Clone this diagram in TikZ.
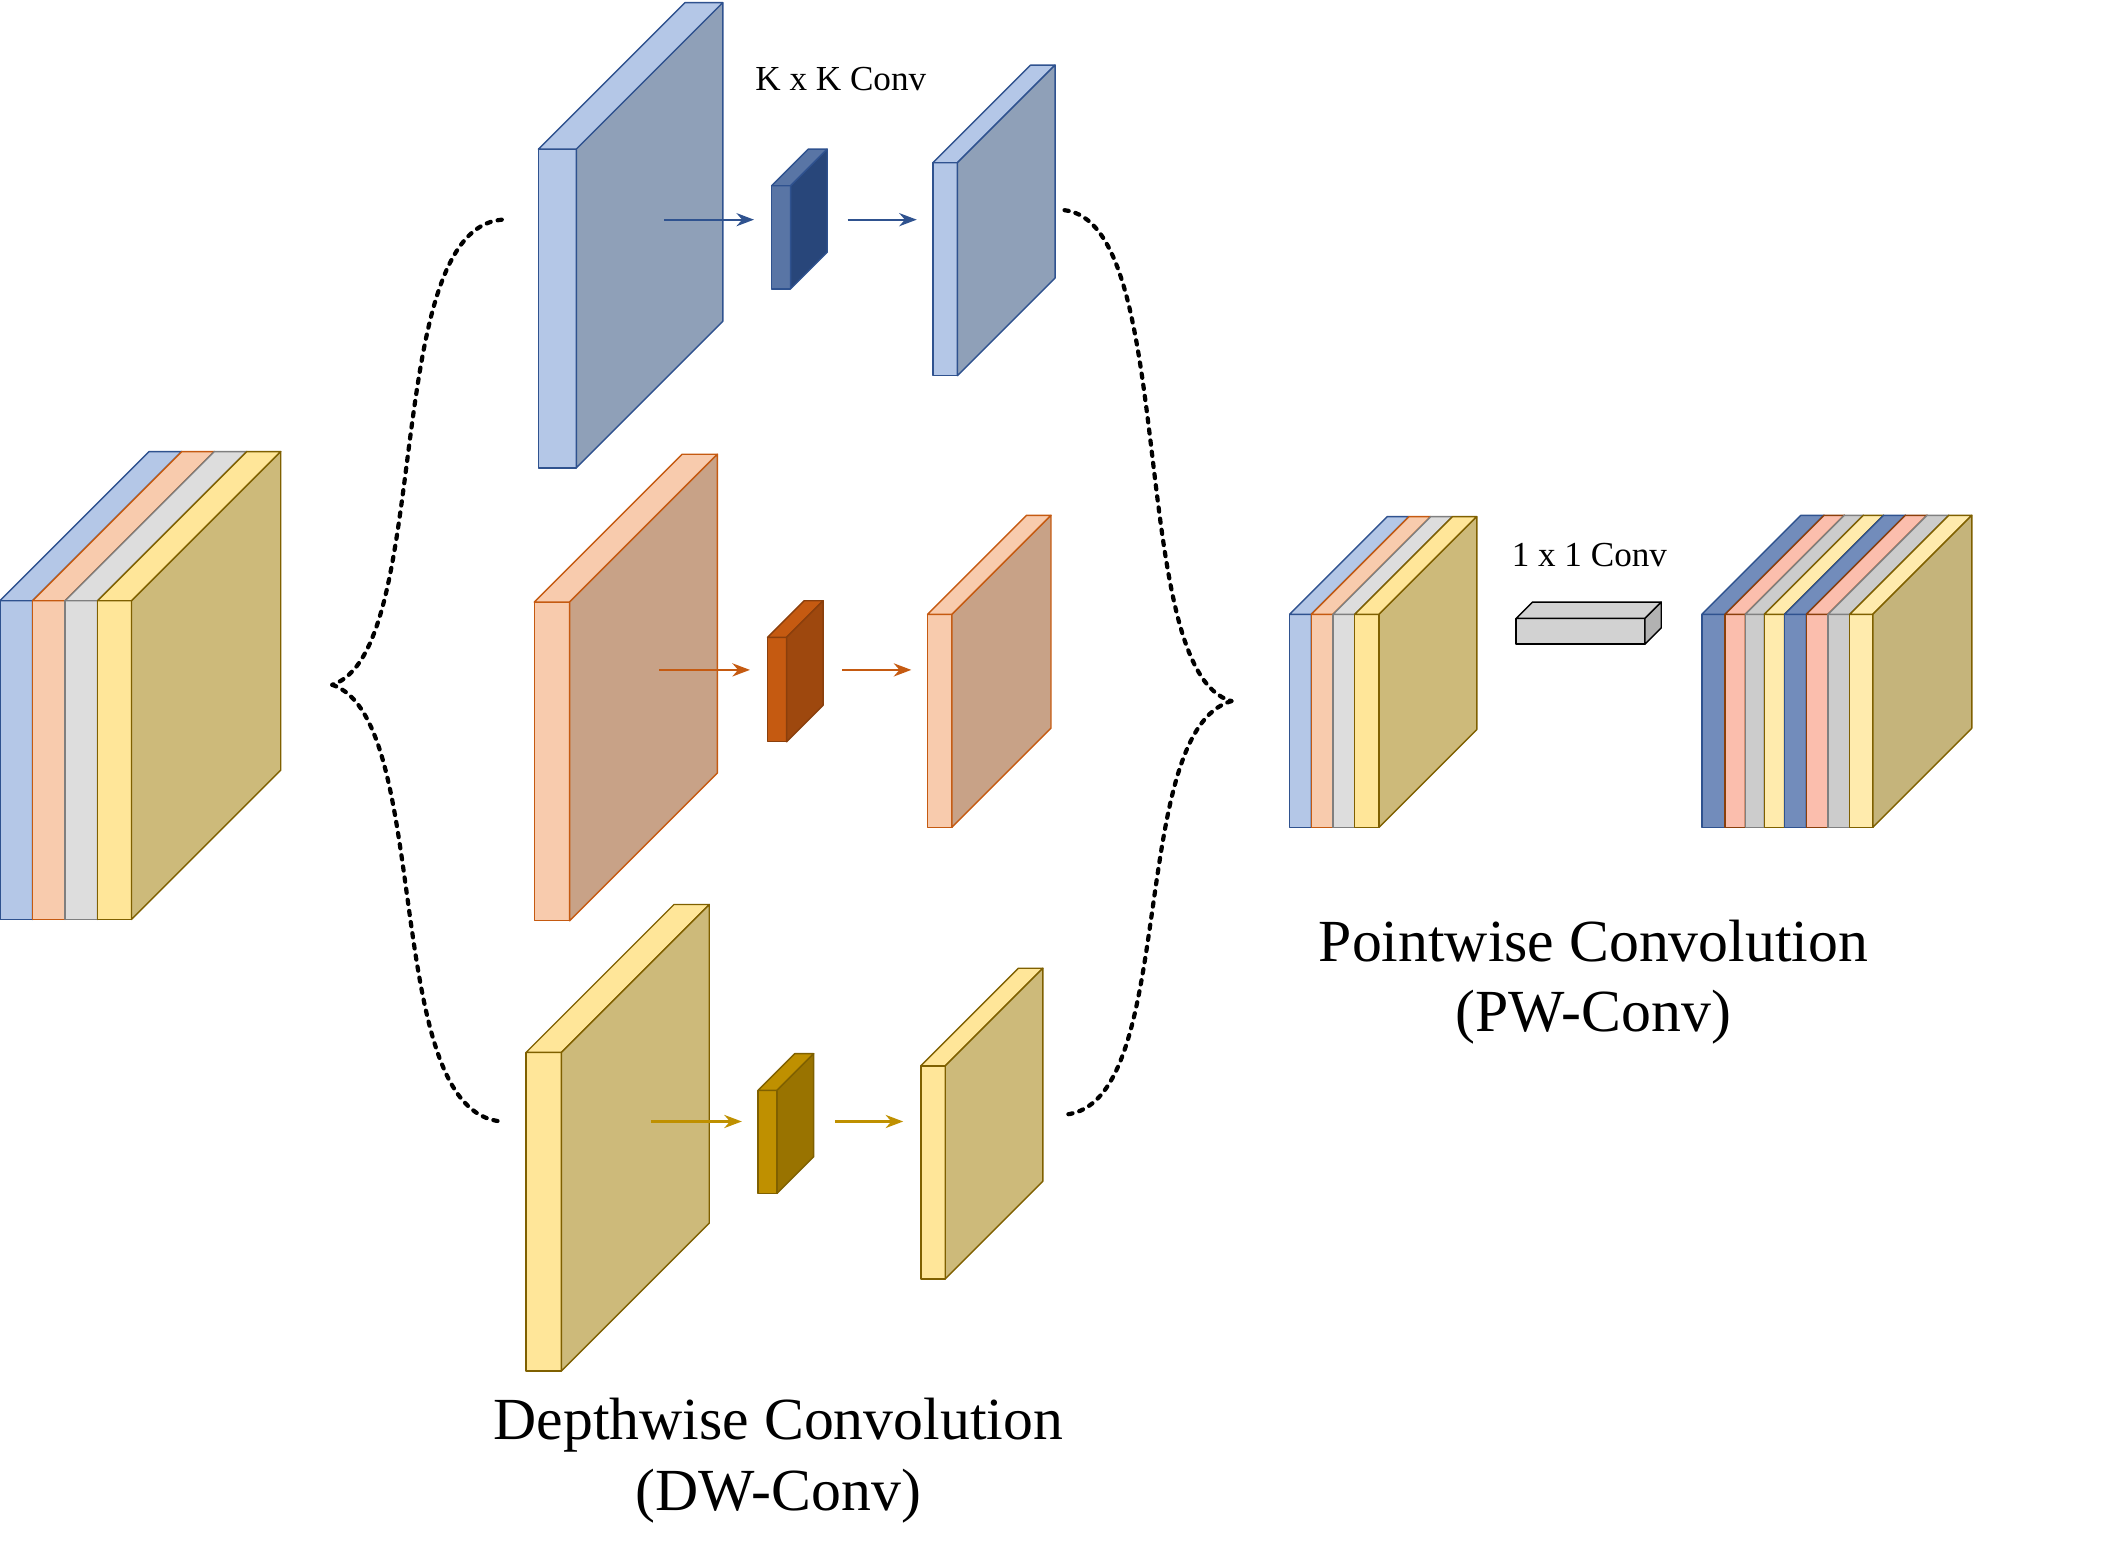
\documentclass[tikz,border=0pt]{standalone}
\usepackage{fontspec}
\setmainfont{Liberation Serif}
\usetikzlibrary{arrows.meta}

% slab: x, y, width, height, depth, front, side, line
\newcommand\slab[8]{%
  \filldraw[fill=#6, draw=#8, line join=round] (#1,#2) rectangle ++(#3,#4);
  \filldraw[fill=#6, draw=#8, line join=round] (#1,#2) -- ++(#5,-#5) -- ++(#3,0) -- ++(-#5,#5) -- cycle;
  \filldraw[fill=#7, draw=#8, line join=round] (#1+#3,#2) -- ++(#5,-#5) -- ++(0,#4) -- ++(-#5,#5) -- cycle;
}

\definecolor{bluef}{HTML}{B4C7E7}
\definecolor{blues}{HTML}{8FA0B8}
\definecolor{bluel}{HTML}{2F528F}
\definecolor{oranf}{HTML}{F8CBAD}
\definecolor{orans}{HTML}{C8A287}
\definecolor{oranl}{HTML}{C55A11}
\definecolor{grayf}{HTML}{DDDDDD}
\definecolor{grayl}{HTML}{7F7F7F}
\definecolor{yelf}{HTML}{FFE699}
\definecolor{yels}{HTML}{CDBA7A}
\definecolor{yell}{HTML}{7F6000}
\definecolor{kyel}{HTML}{BF9000}

\begin{document}
\begin{tikzpicture}[x=0.01356cm, y=-0.01356cm,
    brace/.style={dotted, very thick, line cap=round},
    flow/.style={-{Stealth[length=5pt]}, semithick},
    title/.style={font=\fontsize{17}{20}\selectfont, align=center},
    convlabel/.style={font=\fontsize{10}{12}\selectfont}]
\useasboundingbox (0,0) rectangle (1567,1153);

% input stack
\slab{0}{443}{24}{235}{110}{bluef}{blues}{bluel}
\slab{24}{443}{24}{235}{110}{oranf}{orans}{oranl}
\slab{48}{443}{24}{235}{110}{grayf}{grayf!70!gray}{grayl}
\slab{72}{443}{25}{235}{110}{yelf}{yels}{yell}

% depthwise branches
\slab{397}{110}{28}{235}{108}{bluef}{blues}{bluel}
\slab{569}{137}{14}{76}{27}{bluel!80!white}{bluel!85!black}{bluel}
\slab{688}{120}{18}{157}{72}{bluef}{blues}{bluel}

\slab{394}{444}{26}{235}{109}{oranf}{orans}{oranl}
\slab{566}{470}{14}{77}{27}{oranl}{oranl!80!black}{oranl!70!black}
\slab{684}{453}{18}{157}{73}{oranf}{orans}{oranl}

\slab{388}{776}{26}{235}{109}{yelf}{yels}{yell}
\slab{559}{804}{14}{76}{27}{kyel}{kyel!80!black}{yell}
\slab{679}{786}{18}{157}{72}{yelf}{yels}{yell}

\node[convlabel] (kk) at (620,58) {K x K Conv};

\coordinate (b1) at (490,162);  \coordinate (k1) at (556,162);
\coordinate (c1) at (625,162);  \coordinate (o1) at (676,162);
\coordinate (b2) at (486,494);  \coordinate (k2) at (553,494);
\coordinate (c2) at (621,494);  \coordinate (o2) at (672,494);
\coordinate (b3) at (480,827);  \coordinate (k3) at (547,827);
\coordinate (c3) at (616,827);  \coordinate (o3) at (666,827);
\draw[flow, bluel] (b1) -- (k1);
\draw[flow, bluel] (c1) -- (o1);
\draw[flow, oranl] (b2) -- (k2);
\draw[flow, oranl] (c2) -- (o2);
\draw[flow, kyel] (b3) -- (k3);
\draw[flow, kyel] (c3) -- (o3);

% braces
\coordinate (lt) at (370,162);
\coordinate (lm) at (245,505);
\coordinate (lb) at (370,827);
\draw[brace] (lt) .. controls (280,170) and (320,480) .. (lm);
\draw[brace] (lm) .. controls (320,530) and (280,820) .. (lb);
\coordinate (rt) at (785,155);
\coordinate (rm) at (908,517);
\coordinate (rb) at (785,822);
\draw[brace] (rt) .. controls (870,165) and (830,495) .. (rm);
\draw[brace] (rm) .. controls (830,540) and (870,815) .. (rb);

% depthwise output stack
\slab{951}{453}{16}{157}{72}{bluef}{blues}{bluel}
\slab{967}{453}{16}{157}{72}{oranf}{orans}{oranl}
\slab{983}{453}{16}{157}{72}{grayf}{grayf!70!gray}{grayl}
\slab{999}{453}{18}{157}{72}{yelf}{yels}{yell}

% 1x1 kernel
\slab{1118}{456}{95}{19}{12}{gray!35}{gray!60}{black}
\node[convlabel] (pw) at (1172,409) {1 x 1 Conv};

% pointwise output stack
\slab{1255}{453}{17}{157}{73}{bluef!50!bluel}{blues}{bluel}
\slab{1272}{453}{15}{157}{73}{red!20!oranf!70!white}{orans}{oranl!70!black}
\slab{1287}{453}{14}{157}{73}{gray!40}{gray!50}{gray}
\slab{1301}{453}{15}{157}{73}{yelf!80!white}{yels}{yell}
\slab{1316}{453}{16}{157}{73}{bluef!50!bluel}{blues}{bluel}
\slab{1332}{453}{16}{157}{73}{red!20!oranf!70!white}{orans}{oranl!70!black}
\slab{1348}{453}{16}{157}{73}{gray!40}{gray!50}{gray}
\slab{1364}{453}{17}{157}{73}{yelf!80!white}{yels!90!gray}{yell}

% titles
\node[title] (dw) at (574,1077) {Depthwise Convolution\\(DW-Conv)};
\node[title] (pwt) at (1175,724) {Pointwise Convolution\\(PW-Conv)};
\end{tikzpicture}
\end{document}
